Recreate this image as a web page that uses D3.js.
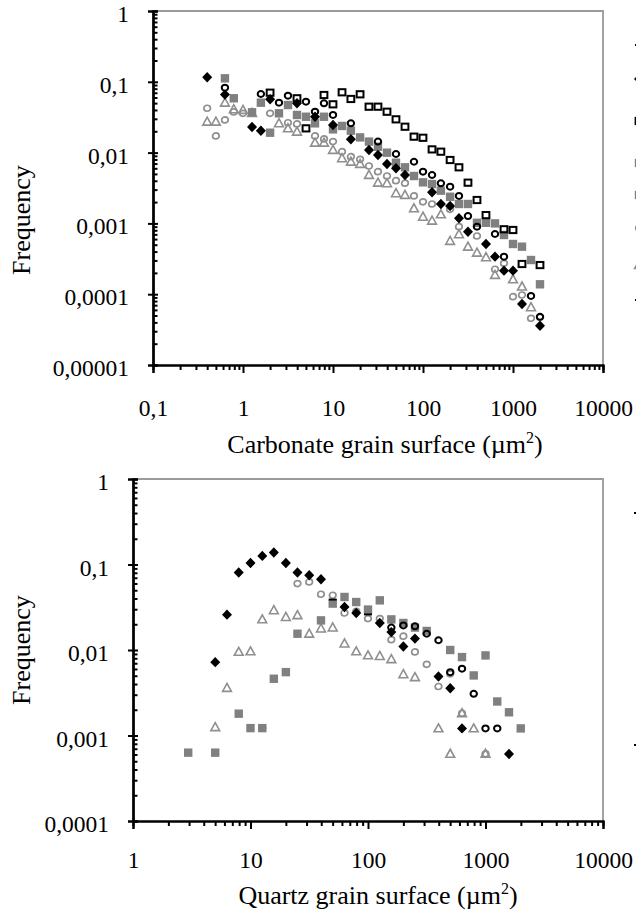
<!DOCTYPE html>
<html><head><meta charset="utf-8">
<script src="https://cdn.jsdelivr.net/npm/d3@7"></script>
<style>body{margin:0;background:#fff}svg{display:block}</style>
</head><body>
<script>
// ---------- Top chart: carbonate grains ----------
const carbDiamond = [[0.4,0.116],[0.63,0.066],[1.26,0.023],[1.58,0.0204],[2,0.0566],[3.98,0.0497],[6.31,0.0321],[10,0.0245],[15.8,0.0154],[25.1,0.0109],[31.6,0.00925],[39.8,0.0069],[50.1,0.006],[63.1,0.00483],[126,0.00275],[158,0.00188],[200,0.00176],[251,0.00118],[316,0.000764],[501,0.000512],[631,0.000339],[794,0.000215],[1000,0.000215],[1259,0.0000727],[1995,0.0000359]];
const carbGraySquare = [[0.63,0.112],[0.79,0.0585],[1.26,0.0371],[1.58,0.0507],[2,0.0191],[2.51,0.0359],[3.16,0.047],[3.98,0.034],[5.01,0.0321],[6.31,0.0259],[7.94,0.0321],[10,0.0213],[12.6,0.0238],[15.8,0.0204],[20,0.0164],[25.1,0.0143],[31.6,0.0121],[39.8,0.00997],[50.1,0.0072],[63.1,0.0062],[79.4,0.00467],[100,0.0038],[126,0.0036],[158,0.0029],[200,0.00238],[251,0.00188],[316,0.00188],[398,0.00102],[501,0.00102],[631,0.001],[794,0.000686],[1000,0.000512],[1259,0.000469],[1585,0.000304],[1995,0.000138]];
const carbOpenSquare = [[2,0.0702],[3.98,0.0585],[5.01,0.022],[7.94,0.0651],[10,0.0481],[12.6,0.0711],[15.8,0.0572],[20,0.0666],[25.1,0.0445],[31.6,0.0445],[39.8,0.0378],[50.1,0.0295],[63.1,0.0232],[79.4,0.0168],[100,0.0162],[126,0.0111],[158,0.0103],[200,0.00786],[251,0.0062],[316,0.00376],[398,0.00214],[501,0.00131],[794,0.000826],[1000,0.000807],[1259,0.000267],[1995,0.000258]];
const carbBlackCircle = [[0.63,0.0826],[1.58,0.0673],[2.51,0.0507],[3.16,0.0636],[5.01,0.0524],[6.31,0.0378],[7.94,0.0497],[10,0.034],[15.8,0.0259],[31.6,0.0143],[50.1,0.00955],[79.4,0.00743],[100,0.00537],[126,0.00483],[158,0.00368],[200,0.0033],[251,0.00244],[316,0.00127],[398,0.0009],[631,0.000708],[794,0.000339],[1585,0.0000944],[1995,0.0000479]];
const carbGrayCircle = [[0.4,0.0423],[0.5,0.0172],[0.63,0.0289],[0.79,0.0375],[1,0.0359],[2,0.0359],[3.16,0.0264],[3.98,0.0254],[6.31,0.0172],[7.94,0.0156],[10,0.0143],[12.6,0.0103],[15.8,0.00875],[20,0.00804],[25.1,0.00647],[31.6,0.00537],[39.8,0.00467],[50.1,0.00401],[63.1,0.0037],[79.4,0.00244],[100,0.00202],[126,0.00188],[200,0.00158],[251,0.000898],[398,0.000664],[631,0.000225],[794,0.000273],[1000,0.0000922],[1259,0.0000975],[1585,0.0000457],[1995,0.0000472]];
const carbGrayTriangle = [[0.4,0.0273],[0.5,0.0273],[0.63,0.0507],[0.79,0.0409],[1,0.04],[1.26,0.0363],[2.51,0.0259],[3.16,0.022],[3.98,0.0197],[6.31,0.0138],[7.94,0.0138],[10,0.0109],[12.6,0.0083],[15.8,0.00743],[20,0.0069],[25.1,0.00483],[31.6,0.00376],[39.8,0.00368],[50.1,0.00266],[63.1,0.00252],[79.4,0.00163],[100,0.00124],[126,0.00109],[158,0.00134],[200,0.000564],[251,0.000702],[316,0.000469],[398,0.000385],[501,0.000332],[631,0.000187],[1000,0.000162],[1259,0.000128],[1585,0.0000653]];

// ---------- Bottom chart: quartz grains ----------
const qtzDiamond = [[5.01,0.00721],[6.31,0.0259],[7.94,0.0805],[10,0.104],[12.6,0.126],[15.8,0.138],[20,0.104],[25.1,0.0805],[31.6,0.0749],[39.8,0.0673],[63.1,0.0318],[79.4,0.0271],[126,0.0207],[158,0.0162],[200,0.011],[251,0.0136],[398,0.0049],[501,0.00357],[631,0.00121],[1585,0.000608]];
const qtzGraySquare = [[2.95,0.00063],[5.01,0.00063],[7.94,0.0018],[10,0.00122],[12.6,0.00122],[15.8,0.00461],[20,0.00551],[25.1,0.0155],[39.8,0.0222],[50.1,0.0349],[63.1,0.0417],[79.4,0.0364],[100,0.0297],[126,0.0381],[158,0.0228],[200,0.0207],[251,0.0183],[316,0.0167],[501,0.01],[631,0.00826],[794,0.00504],[1000,0.00864],[1259,0.0025],[1585,0.00187],[1995,0.00121]];
const qtzGrayTriangle = [[5.01,0.00125],[6.31,0.0036],[7.94,0.0095],[10,0.00963],[12.6,0.0228],[15.8,0.0291],[20,0.0243],[25.1,0.0255],[31.6,0.0155],[39.8,0.0178],[50.1,0.0183],[63.1,0.0119],[79.4,0.00963],[100,0.00865],[126,0.0085],[158,0.0078],[200,0.0052],[251,0.0048],[398,0.00121],[501,0.00061],[631,0.00182],[794,0.00121],[1000,0.00061]];
const qtzGrayCircle = [[12.6,0.00122],[25.1,0.0599],[31.6,0.0625],[39.8,0.0449],[50.1,0.0437],[63.1,0.0271],[79.4,0.0283],[100,0.0233],[126,0.0233],[158,0.0132],[200,0.0145],[251,0.0095],[316,0.0068],[398,0.00374],[501,0.00527],[631,0.00182],[1000,0.00061]];
const qtzBlackCircle = [[158,0.0183],[200,0.0194],[251,0.0189],[316,0.0155],[398,0.013],[501,0.0055],[631,0.00604],[794,0.00307],[1000,0.00121],[1259,0.00121]];
const qtzBlackDash = [[50.1,0.0389],[100,0.0261]];

// ---------- Axis tick labels ----------
const carbXTicks = [0.1, 1, 10, 100, 1000, 10000];
const carbYTicks = [0.00001, 0.0001, 0.001, 0.01, 0.1, 1];
const qtzXTicks = [1, 10, 100, 1000, 10000];
const qtzYTicks = [0.0001, 0.001, 0.01, 0.1, 1];

const W = 636, H = 912;
const svg = d3.select("body").append("svg").attr("width", W).attr("height", H);
const FONT = "'Liberation Serif','Times New Roman',serif";
const fmt = d3.formatLocale({decimal: ",", thousands: "", grouping: [3], currency: ["", ""]}).format("~f");
const GRAY = "#808080", LGRAY = "#8f8f8f";

function minorTicks(domain) {
  const out = [];
  for (let e = Math.round(Math.log10(domain[0])); e < Math.round(Math.log10(domain[1])); e++)
    for (let k = 2; k <= 9; k++) out.push(k * Math.pow(10, e));
  return out;
}

const markers = {
  diamond: (g) => g.append("path").attr("d", "M0,-5.2L5,0L0,5.2L-5,0Z").attr("fill", "#000"),
  graySquare: (g) => g.append("rect").attr("x", -4.2).attr("y", -4.2).attr("width", 8.4).attr("height", 8.4).attr("fill", GRAY),
  openSquare: (g) => g.append("rect").attr("x", -3.4).attr("y", -3.1).attr("width", 6.8).attr("height", 6.2).attr("fill", "none").attr("stroke", "#000").attr("stroke-width", 2),
  blackCircle: (g) => g.append("ellipse").attr("rx", 3.2).attr("ry", 3.0).attr("fill", "none").attr("stroke", "#000").attr("stroke-width", 2),
  grayCircle: (g) => g.append("ellipse").attr("rx", 3.3).attr("ry", 3.0).attr("fill", "none").attr("stroke", LGRAY).attr("stroke-width", 1.7),
  grayTriangle: (g) => g.append("path").attr("d", "M0,-4.6L4.4,3.4L-4.4,3.4Z").attr("fill", "none").attr("stroke", LGRAY).attr("stroke-width", 1.6),
  dash: (g) => g.append("rect").attr("x", -4).attr("y", -1).attr("width", 8).attr("height", 2).attr("fill", "#000")
};

function panel(cfg) {
  const x = d3.scaleLog().domain(cfg.xDomain).range([cfg.left, cfg.right]);
  const y = d3.scaleLog().domain(cfg.yDomain).range([cfg.bottom, cfg.top]);
  const g = svg.append("g");
  g.append("path").attr("d", `M${cfg.left},${cfg.top}H${cfg.right}V${cfg.bottom}`)
    .attr("fill", "none").attr("stroke", "#9a9a9a").attr("stroke-width", 1.8);

  const pts = g.append("g");
  cfg.series.forEach(s => {
    s.data.forEach(d => {
      const m = pts.append("g").attr("transform", `translate(${x(d[0])},${y(d[1])})`);
      markers[s.type](m);
    });
  });

  const xMinor = g.append("g").attr("transform", `translate(0,${cfg.bottom})`)
    .call(d3.axisBottom(x).tickValues(minorTicks(cfg.xDomain)).tickSize(5).tickFormat(""));
  const xMajor = g.append("g").attr("transform", `translate(0,${cfg.bottom})`)
    .call(d3.axisBottom(x).tickValues(cfg.xTicks).tickSize(8).tickPadding(cfg.xPad).tickFormat(fmt));
  const yMinor = g.append("g").attr("transform", `translate(${cfg.left},0)`)
    .call(d3.axisRight(y).tickValues(minorTicks(cfg.yDomain)).tickSize(4.5).tickFormat(""));
  const yMajorIn = g.append("g").attr("transform", `translate(${cfg.left},0)`)
    .call(d3.axisRight(y).tickValues(cfg.yTicks).tickSize(5).tickFormat(""));
  const yMajor = g.append("g").attr("transform", `translate(${cfg.left},0)`)
    .call(d3.axisLeft(y).tickValues(cfg.yTicks).tickSize(5).tickPadding(19).tickFormat(fmt));
  [xMinor, xMajor, yMinor, yMajorIn, yMajor].forEach(a => {
    a.selectAll(".domain").attr("stroke", "#000").attr("stroke-width", 2);
    a.selectAll(".tick line").attr("stroke", "#000").attr("stroke-width", 2);
    a.selectAll("text").attr("font-family", FONT).attr("font-size", 23.5).attr("fill", "#000");
  });
  yMajor.selectAll("text").attr("dy", "0.45em");
  xMajor.selectAll("text").attr("dy", "0.71em");

  const xt = g.append("text").attr("x", cfg.xTitleX).attr("y", cfg.xTitleY)
    .attr("text-anchor", "middle").attr("font-family", FONT).attr("font-size", 26);
  xt.append("tspan").text(cfg.xTitle);
  xt.append("tspan").text("2").attr("font-size", 16).attr("dy", -10);
  xt.append("tspan").text(")").attr("dy", 10);
  g.append("text").attr("transform", `translate(${cfg.yTitleX},${cfg.yTitleY}) rotate(-90)`)
    .attr("text-anchor", "middle").attr("font-family", FONT).attr("font-size", 26).text("Frequency");
  return {x, y};
}

panel({
  xDomain: [0.1, 10000], yDomain: [0.00001, 1],
  left: 153, right: 603, top: 11, bottom: 365, xPad: 26,
  xTicks: carbXTicks, yTicks: carbYTicks,
  xTitle: "Carbonate grain surface (\u00b5m", xTitleX: 385, xTitleY: 453,
  yTitleX: 30, yTitleY: 220,
  series: [
    {type: "grayTriangle", data: carbGrayTriangle},
    {type: "grayCircle", data: carbGrayCircle},
    {type: "graySquare", data: carbGraySquare},
    {type: "diamond", data: carbDiamond},
    {type: "openSquare", data: carbOpenSquare},
    {type: "blackCircle", data: carbBlackCircle}
  ]
});

panel({
  xDomain: [1, 10000], yDomain: [0.0001, 1],
  left: 133, right: 603, top: 479, bottom: 821, xPad: 22,
  xTicks: qtzXTicks, yTicks: qtzYTicks,
  xTitle: "Quartz grain surface (\u00b5m", xTitleX: 378, xTitleY: 904,
  yTitleX: 30, yTitleY: 650,
  series: [
    {type: "grayTriangle", data: qtzGrayTriangle},
    {type: "grayCircle", data: qtzGrayCircle},
    {type: "graySquare", data: qtzGraySquare},
    {type: "diamond", data: qtzDiamond},
    {type: "blackCircle", data: qtzBlackCircle},
    {type: "dash", data: qtzBlackDash}
  ]
});

// legend markers cut off at the right edge of the picture
const legendTop = ["dash", "diamond", "openSquare", "graySquare", "graySquare", "grayCircle", "grayTriangle", "dash"];
const legendTopY = [45, 79, 121, 163, 195, 228, 265, 300];
legendTop.forEach((t, i) => {
  const m = svg.append("g").attr("transform", `translate(639,${legendTopY[i]})`);
  markers[t](m);
});
const legendBottomY = [513, 745];
legendBottomY.forEach(yy => {
  const m = svg.append("g").attr("transform", `translate(638,${yy})`);
  markers.dash(m);
});
</script>
</body></html>
